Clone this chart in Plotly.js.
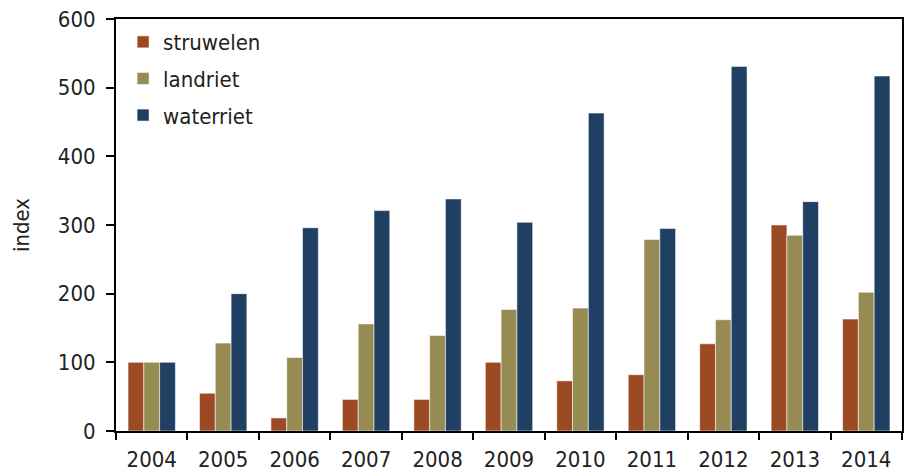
<!DOCTYPE html>
<html>
<head>
<meta charset="utf-8">
<script src="https://cdn.plot.ly/plotly-3.0.1.min.js"></script>
<style>html,body{margin:0;padding:0;background:#fff;}#chart{width:904px;height:472px;}</style>
</head>
<body>
<div id="chart"></div>
<script>
var years = ['2004','2005','2006','2007','2008','2009','2010','2011','2012','2013','2014'];
var seriesNames = ['struwelen','landriet','waterriet'];
var struwelen = [100, 55, 19, 46, 46, 100, 73, 82, 127, 300, 163];
var landriet  = [100, 128, 107, 156, 139, 177, 179, 279, 162, 285, 202];
var waterriet = [100, 200, 296, 321, 338, 304, 463, 295, 531, 334, 517];
var yTickVals = [0, 100, 200, 300, 400, 500, 600];
var colors = ['#9C4A23', '#958B53', '#1F4062'];

var font = 'DejaVu Sans Condensed, DejaVu Sans, sans-serif';
var values = [struwelen, landriet, waterriet];
var traces = values.map(function(v, i){
  return {
    type: 'bar', x: years, y: v, name: seriesNames[i],
    legendgroup: 'g' + i,
    marker: {color: colors[i], line: {color: 'rgba(255,255,255,0.55)', width: 1}}
  };
});

var layout = {
  width: 904, height: 472,
  margin: {l: 116, r: 2, t: 18.5, b: 41, pad: 0},
  paper_bgcolor: '#fff', plot_bgcolor: '#fff',
  barmode: 'group', bargap: 0.337, bargroupgap: 0,
  font: {family: font, size: 22, color: '#222'},
  showlegend: true,
  legend: {x: 0.009, y: 0.995, xanchor: 'left', yanchor: 'top', bgcolor: 'rgba(0,0,0,0)',
           font: {family: font, size: 22, color: '#222'}, traceorder: 'grouped', tracegroupgap: 5},
  xaxis: {type: 'category', range: [-0.5, 10.5], showline: true, linecolor: '#000', linewidth: 2,
          mirror: true, ticks: 'outside', ticklen: 7, tickwidth: 2, tickcolor: '#000',
          tickson: 'boundaries', showgrid: false, zeroline: false, ticklabelstandoff: 8,
          tickfont: {family: font, size: 22, color: '#222'}},
  yaxis: {range: [0, 600], tickvals: yTickVals, showline: true, linecolor: '#000', linewidth: 2,
          mirror: true, ticks: 'outside', ticklen: 8, tickwidth: 2, tickcolor: '#000',
          showgrid: false, zeroline: false, ticklabelstandoff: 6,
          tickfont: {family: font, size: 22, color: '#222'},
          title: {text: 'index', font: {family: font, size: 22, color: '#222'}, standoff: 22}}
};
Plotly.newPlot('chart', traces, layout, {displayModeBar: false, staticPlot: true});
</script>
</body>
</html>
